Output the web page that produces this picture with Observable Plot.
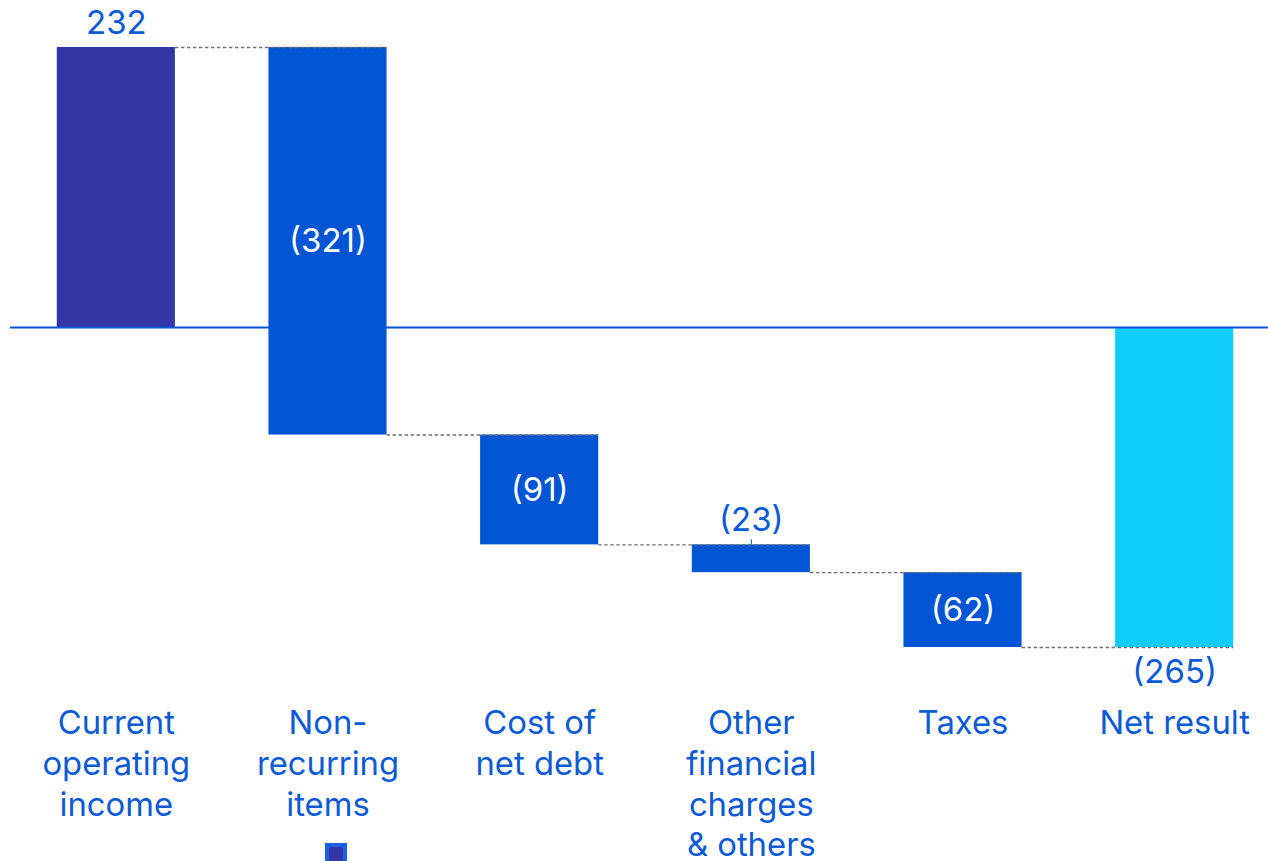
<!DOCTYPE html>
<html>
<head>
<meta charset="utf-8">
<script src="https://cdn.jsdelivr.net/npm/d3@7"></script>
<script src="https://cdn.jsdelivr.net/npm/@observablehq/plot@0.6"></script>
<style>
  html, body { margin: 0; padding: 0; background: #fff; }
  #wrap { position: relative; width: 1268px; height: 861px; overflow: hidden; }
  #swatch { position: absolute; left: 325px; top: 843px; width: 14px; height: 14px;
            background: #3236A6; border: 4px solid #1A5FE0; }
</style>
</head>
<body>
<div id="wrap"><div id="chart"></div><div id="swatch"></div></div>
<script>
const categories = ["Current operating income", "Non-recurring items", "Cost of net debt", "Other financial charges & others", "Taxes", "Net result"];
const tickLabels = ["Current\noperating\nincome", "Non-\nrecurring\nitems", "Cost of\nnet debt", "Other\nfinancial\ncharges\n& others", "Taxes", "Net result"];
const values = [232, -321, -91, -23, -62, -265];
const kinds = ["total", "delta", "delta", "delta", "delta", "total"];
const valueLabels = ["232", "(321)", "(91)", "(23)", "(62)", "(265)"];
const labelPlacement = ["above", "inside", "inside", "above", "inside", "below"];

const colors = {first: "#3236A6", delta: "#0055D4", last: "#0FCDFF"};
const textColor = "#0A5AD4";
const font = "Inter, 'Open Sans', sans-serif";

// build waterfall table
let running = 0;
const rows = categories.map((c, i) => {
  let y1, y2;
  if (kinds[i] === "total") { y1 = 0; y2 = values[i]; running = values[i]; }
  else { y1 = running; y2 = running + values[i]; running = y2; }
  return {
    cat: c, y1, y2, top: Math.max(y1, y2), bottom: Math.min(y1, y2), mid: (y1 + y2) / 2,
    label: valueLabels[i], place: labelPlacement[i], kind: kinds[i],
    color: i === 0 ? colors.first : (i === categories.length - 1 ? colors.last : colors.delta)
  };
});
const connectors = rows.slice(0, -1).map((r, i) => ({a: r.cat, b: rows[i + 1].cat, y: r.y2}));

const xRange = [10, 1280];
const pad = 0.442;
const step = (xRange[1] - xRange[0]) / categories.length;
const bw = step * (1 - pad);

const plot = Plot.plot({
  width: 1268,
  height: 861,
  marginLeft: 10, marginRight: 0, marginTop: 0, marginBottom: 158,
  style: {fontFamily: font, background: "transparent"},
  x: {domain: categories, range: xRange, paddingInner: pad, paddingOuter: pad / 2, round: false, axis: null},
  y: {domain: [-265, 232], range: [647, 47], axis: null},
  marks: [
    Plot.barY(rows, {x: "cat", y1: "y1", y2: "y2", fill: "color"}),
    Plot.ruleY(connectors, {x1: "a", x2: "b", y: "y", insetLeft: bw, stroke: "#707070", strokeWidth: 1.4, strokeDasharray: "3.5,2.5"}),
    Plot.ruleY([0], {stroke: "#0055D4", strokeWidth: 2}),
    Plot.ruleX(rows.filter(r => r.place === "above" && r.kind === "delta"), {x: "cat", y1: "top", y2: "top", insetTop: -5, stroke: textColor, strokeWidth: 1}),
    Plot.text(rows.filter(r => r.place === "inside"), {x: "cat", y: "mid", text: "label", fill: "white", fontSize: 33}),
    Plot.text(rows.filter(r => r.place === "above"), {x: "cat", y: "top", text: "label", dy: -24, fill: textColor, fontSize: 33}),
    Plot.text(rows.filter(r => r.place === "below"), {x: "cat", y: "bottom", text: "label", dy: 25, fill: textColor, fontSize: 33}),
    Plot.text(categories, {x: d => d, text: (d, i) => tickLabels[i], frameAnchor: "bottom", lineAnchor: "top", dy: 2, lineHeight: 1.24, fill: textColor, fontSize: 32.8})
  ]
});
document.getElementById("chart").appendChild(plot);
</script>
</body>
</html>
